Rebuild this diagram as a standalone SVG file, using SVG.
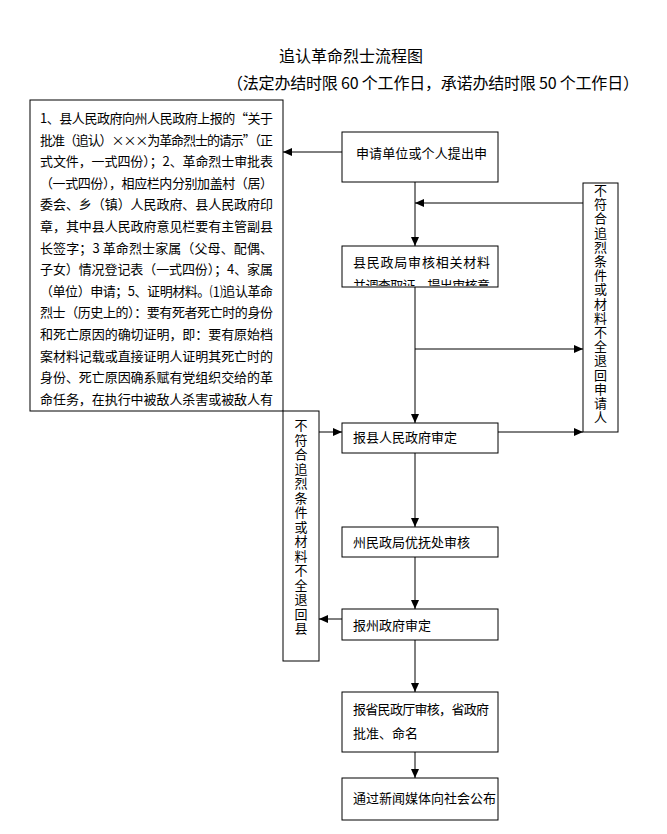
<svg xmlns="http://www.w3.org/2000/svg" width="667" height="834" viewBox="0 0 667 834">
<style>
text{font-family:"Noto Sans CJK SC","Noto Sans",sans-serif;fill:#000;}
.t{font-size:13px;}
.ttl{font-size:16px;}
.v{font-size:13px;text-anchor:middle;}
.box{fill:#fff;stroke:#000;stroke-width:1;}
.ln{fill:none;stroke:#000;stroke-width:1;marker-end:url(#ah);}
</style>
<defs>
<marker id="ah" markerUnits="userSpaceOnUse" markerWidth="9" markerHeight="8" refX="9" refY="4" orient="auto">
<path d="M0,0 L9,4 L0,8 z" fill="#000"/>
</marker>
<clipPath id="c2"><rect x="343" y="247" width="154" height="39"/></clipPath>
</defs>
<rect x="0" y="0" width="667" height="834" fill="#fff"/>

<g id="title">
<text class="ttl" x="351" y="62" text-anchor="middle">追认革命烈士流程图</text>
<text class="ttl" x="227" y="89" textLength="412" lengthAdjust="spacing">（法定办结时限 60 个工作日，承诺办结时限 50 个工作日）</text>
</g>

<g id="materials">
<rect class="box" x="30" y="100" width="253" height="311"/>
<text class="t" x="40" y="123" textLength="233" lengthAdjust="spacing">1、县人民政府向州人民政府上报的“关于</text>
<text class="t" x="40" y="144.6" textLength="233" lengthAdjust="spacing">批准（追认）×××为革命烈士的请示”（正</text>
<text class="t" x="40" y="166.2" textLength="233" lengthAdjust="spacing">式文件，一式四份）；2、革命烈士审批表</text>
<text class="t" x="40" y="187.8" textLength="233" lengthAdjust="spacing">（一式四份），相应栏内分别加盖村（居）</text>
<text class="t" x="40" y="209.4" textLength="233" lengthAdjust="spacing">委会、乡（镇）人民政府、县人民政府印</text>
<text class="t" x="40" y="231" textLength="233" lengthAdjust="spacing">章，其中县人民政府意见栏要有主管副县</text>
<text class="t" x="40" y="252.6" textLength="233" lengthAdjust="spacing">长签字；3 革命烈士家属（父母、配偶、</text>
<text class="t" x="40" y="274.2" textLength="233" lengthAdjust="spacing">子女）情况登记表（一式四份）；4、家属</text>
<text class="t" x="40" y="295.8" textLength="233" lengthAdjust="spacing">（单位）申请；5、证明材料。⑴追认革命</text>
<text class="t" x="40" y="317.4" textLength="233" lengthAdjust="spacing">烈士（历史上的）：要有死者死亡时的身份</text>
<text class="t" x="40" y="339" textLength="233" lengthAdjust="spacing">和死亡原因的确切证明，即：要有原始档</text>
<text class="t" x="40" y="360.6" textLength="233" lengthAdjust="spacing">案材料记载或直接证明人证明其死亡时的</text>
<text class="t" x="40" y="382.2" textLength="233" lengthAdjust="spacing">身份、死亡原因确系赋有党组织交给的革</text>
<text class="t" x="40" y="403.8" textLength="233" lengthAdjust="spacing">命任务，在执行中被敌人杀害或被敌人有</text>
</g>

<g id="n1">
<rect class="box" x="342" y="132" width="156" height="50"/>
<text class="t" x="356" y="158" textLength="131" lengthAdjust="spacing">申请单位或个人提出申</text>
</g>

<g id="n2">
<rect class="box" x="342" y="246" width="156" height="41"/>
<text class="t" x="353" y="267" textLength="137" lengthAdjust="spacing">县民政局审核相关材料</text>
<text class="t" x="353" y="290" textLength="137" lengthAdjust="spacing" clip-path="url(#c2)">并调查取证，提出审核意</text>
</g>

<g id="rejectApplicant">
<rect class="box" x="583" y="183" width="35" height="249"/>
<text class="v">
<tspan x="600.5" y="195">不</tspan><tspan x="600.5" y="209.2">符</tspan><tspan x="600.5" y="223.4">合</tspan><tspan x="600.5" y="237.6">追</tspan><tspan x="600.5" y="251.8">烈</tspan><tspan x="600.5" y="266">条</tspan><tspan x="600.5" y="280.2">件</tspan><tspan x="600.5" y="294.4">或</tspan><tspan x="600.5" y="308.6">材</tspan><tspan x="600.5" y="322.8">料</tspan><tspan x="600.5" y="337">不</tspan><tspan x="600.5" y="351.2">全</tspan><tspan x="600.5" y="365.4">退</tspan><tspan x="600.5" y="379.6">回</tspan><tspan x="600.5" y="393.8">申</tspan><tspan x="600.5" y="408">请</tspan><tspan x="600.5" y="422.2">人</tspan>
</text>
</g>

<g id="n3">
<rect class="box" x="342" y="423" width="156" height="30"/>
<text class="t" x="353" y="442">报县人民政府审定</text>
</g>

<g id="rejectCounty">
<rect class="box" x="283" y="411" width="36" height="250"/>
<text class="v">
<tspan x="301" y="430">不</tspan><tspan x="301" y="444.5">符</tspan><tspan x="301" y="459">合</tspan><tspan x="301" y="473.5">追</tspan><tspan x="301" y="488">烈</tspan><tspan x="301" y="502.5">条</tspan><tspan x="301" y="517">件</tspan><tspan x="301" y="531.5">或</tspan><tspan x="301" y="546">材</tspan><tspan x="301" y="560.5">料</tspan><tspan x="301" y="575">不</tspan><tspan x="301" y="589.5">全</tspan><tspan x="301" y="604">退</tspan><tspan x="301" y="618.5">回</tspan><tspan x="301" y="633">县</tspan>
</text>
</g>

<g id="n4">
<rect class="box" x="342" y="527" width="156" height="30"/>
<text class="t" x="353" y="547">州民政局优抚处审核</text>
</g>

<g id="n5">
<rect class="box" x="342" y="609" width="156" height="31"/>
<text class="t" x="353" y="630">报州政府审定</text>
</g>

<g id="n6">
<rect class="box" x="342" y="692" width="156" height="60"/>
<text class="t" x="353" y="714" textLength="136" lengthAdjust="spacing">报省民政厅审核，省政府</text>
<text class="t" x="353" y="738">批准、命名</text>
</g>

<g id="n7">
<rect class="box" x="342" y="778" width="156" height="42"/>
<text class="t" x="353" y="803">通过新闻媒体向社会公布</text>
</g>

<g id="connectors">
<path class="ln" d="M342,152 H283"/>
<path class="ln" d="M415,182 V246"/>
<path class="ln" d="M583,203 H415"/>
<path class="ln" d="M415,287 V423"/>
<path class="ln" d="M415,349 H583"/>
<path class="ln" d="M498,432 H583"/>
<path class="ln" d="M319,432 H342"/>
<path class="ln" d="M415,453 V527"/>
<path class="ln" d="M415,557 V609"/>
<path class="ln" d="M342,619 H319"/>
<path class="ln" d="M415,640 V692"/>
<path class="ln" d="M415,752 V778"/>
</g>
</svg>
